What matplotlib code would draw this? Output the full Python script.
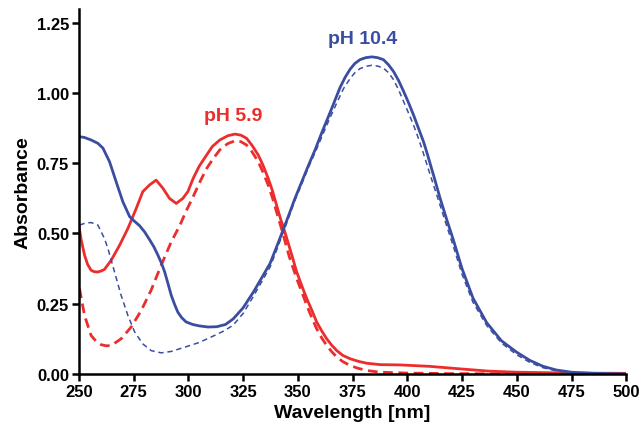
import matplotlib
matplotlib.use("Agg")
import matplotlib.pyplot as plt

plt.rcParams['font.family'] = ['Liberation Sans', 'DejaVu Sans']
plt.rcParams['font.weight'] = 'bold'

red = '#EC2D2D'
blue = '#3A4DA0'

# pH 5.9, solid
red_x = [250, 251, 252.6, 254, 255.6, 257, 258.7, 260, 261.7, 264.8, 268.6, 272.4, 276.2, 279.2, 282.3, 285.3,
         288.4, 291.4, 294.5, 297.5, 299.8, 302.2, 305, 308.4, 311, 314.4, 318, 321.3, 324, 326.6, 329,
         331.9, 334, 336.5, 338.5, 340.3, 342, 344.1, 347, 349.5, 352, 354.1, 356.5, 358.6, 361, 363.2, 365.5,
         367.8, 370.5, 373.9, 377.5, 381.5, 387.6, 396.7, 410, 424, 437, 450, 475, 500]
red_y = [0.53, 0.48, 0.423, 0.39, 0.369, 0.364, 0.363, 0.366, 0.372, 0.405, 0.458, 0.518, 0.589, 0.649, 0.673,
         0.69, 0.661, 0.625, 0.607, 0.625, 0.649, 0.696, 0.74, 0.78, 0.81, 0.833, 0.848, 0.854, 0.85, 0.839, 0.815,
         0.78, 0.745, 0.696, 0.65, 0.601, 0.555, 0.505, 0.43, 0.363, 0.31, 0.268, 0.225, 0.185, 0.152, 0.125,
         0.102, 0.083, 0.066, 0.054, 0.045, 0.038, 0.033, 0.032, 0.027, 0.018, 0.01, 0.006, 0.003, 0.002]

# pH 5.9, dashed
red_dx = [250.3, 252.6, 255.6, 258, 260.2, 262.5, 264.8, 269.3, 273.9, 278.5, 283, 287.6, 292.2, 296.2, 299,
          302.2, 305.3, 308.4, 311.5, 314.4, 318, 321.3, 324, 326.6, 329, 331.9, 334, 336.5, 338.5, 340.3, 343,
          346, 349.5, 352, 354.1, 356.5, 358.6, 361, 363.2, 365.5, 367.8, 370.5, 373.9, 377.5, 381.5, 387.6,
          400, 420, 450, 500]
red_dy = [0.304, 0.208, 0.137, 0.115, 0.104, 0.1, 0.101, 0.125, 0.167, 0.226, 0.298, 0.387, 0.47, 0.53, 0.58,
          0.631, 0.684, 0.732, 0.768, 0.798, 0.82, 0.83, 0.827, 0.815, 0.792, 0.756, 0.72, 0.672, 0.625, 0.577,
          0.505, 0.42, 0.339, 0.288, 0.244, 0.198, 0.161, 0.127, 0.101, 0.079, 0.06, 0.044, 0.03, 0.02, 0.012,
          0.006, 0.003, 0.001, 0.0, 0.0]

# pH 10.4, solid
blue_x = [250, 252.5, 255.6, 258.7, 261, 264, 267, 270.1, 273.2, 275.2, 277.7, 280, 282.3, 284.3, 286.1, 287.7,
          289.2, 290.7, 292.2, 293.7, 295.2, 297, 299, 302, 305, 309, 313, 317, 320.5, 325, 330, 333.5, 337.3,
          340.3, 343.4, 346, 348.7, 352, 355, 358, 361, 364.7, 367, 369.3, 371.6, 373.9, 376, 378.4, 381, 383.8,
          386.5, 389.1, 391.5, 393.7, 396, 398.2, 400.5, 402.8, 405, 407.4, 409, 412, 415, 418, 421, 425, 430,
          436.3, 443, 450, 456, 462, 468, 475, 485, 500]
blue_y = [0.845, 0.842, 0.833, 0.821, 0.804, 0.756, 0.685, 0.613, 0.56, 0.545, 0.528, 0.506, 0.478, 0.452, 0.423,
          0.395, 0.363, 0.322, 0.28, 0.248, 0.22, 0.2, 0.185, 0.176, 0.171, 0.167, 0.168, 0.176, 0.196, 0.235,
          0.295, 0.342, 0.393, 0.452, 0.515, 0.568, 0.625, 0.688, 0.745, 0.8, 0.86, 0.93, 0.975, 1.02, 1.056,
          1.085, 1.105, 1.119, 1.126, 1.129, 1.126, 1.119, 1.1, 1.077, 1.045, 1.008, 0.967, 0.923, 0.877, 0.827,
          0.787, 0.707, 0.625, 0.55, 0.478, 0.375, 0.27, 0.182, 0.118, 0.077, 0.048, 0.027, 0.014, 0.006, 0.002,
          0.0]

# pH 10.4, dashed
blue_dx = [250.3, 253, 255.6, 258.7, 261.7, 263.3, 266.3, 269.3, 272.4, 275.5, 279.2, 283, 287.6, 292.2, 298.3,
           305, 312, 316, 320.4, 325, 330, 333.5, 337.3, 340.3, 343.4, 346, 348.7, 352, 355, 358, 361, 364.7,
           367.8, 370.8, 373.9, 376, 378.4, 381, 383.8, 386.5, 389.1, 391.5, 393.7, 396, 398.2, 400.5, 402.8,
           404.7, 406.6, 410, 415, 418, 421, 425, 430, 436.3, 443, 450, 456, 462, 468, 475, 485, 500]
blue_dy = [0.53, 0.537, 0.539, 0.53, 0.482, 0.446, 0.363, 0.28, 0.208, 0.149, 0.107, 0.083, 0.075, 0.08, 0.095,
           0.112, 0.137, 0.152, 0.173, 0.215, 0.28, 0.328, 0.38, 0.44, 0.505, 0.56, 0.618, 0.68, 0.738, 0.79,
           0.845, 0.912, 0.965, 1.015, 1.052, 1.072, 1.087, 1.095, 1.099, 1.096, 1.089, 1.072, 1.048, 1.012,
           0.972, 0.93, 0.887, 0.847, 0.804, 0.72, 0.6, 0.527, 0.455, 0.355, 0.255, 0.172, 0.11, 0.068, 0.041,
           0.022, 0.011, 0.004, 0.001, 0.0]

xticks = [250, 275, 300, 325, 350, 375, 400, 425, 450, 475, 500]
yticks = [0.00, 0.25, 0.50, 0.75, 1.00, 1.25]

fig = plt.figure(figsize=(6.41, 4.27), dpi=100)
ax = fig.add_axes([0.123, 0.122, 0.854, 0.855])

ax.plot(red_x, red_y, color=red, lw=2.0, solid_joinstyle='round')
ax.plot(red_dx, red_dy, color=red, lw=2.0, dashes=(3.5, 2))
ax.plot(blue_x, blue_y, color=blue, lw=2.0, solid_joinstyle='round')
ax.plot(blue_dx, blue_dy, color=blue, lw=1.1, dashes=(3.5, 2.5))

ax.text(320.4, 0.92, 'pH 5.9', color=red, fontsize=14, fontweight='bold', ha='center', va='center')
ax.text(379.8, 1.196, 'pH 10.4', color=blue, fontsize=14, fontweight='bold', ha='center', va='center')

ax.set_xlim(250, 500)
ax.set_ylim(0, 1.3)
ax.set_xticks(xticks)
ax.set_yticks(yticks)
ax.set_yticklabels(['%.2f' % v for v in yticks])
ax.spines['top'].set_visible(False)
ax.spines['right'].set_visible(False)
ax.spines['left'].set_linewidth(1.8)
ax.spines['bottom'].set_linewidth(1.8)
ax.tick_params(width=1.8, length=5, labelsize=12, pad=2)
for lab in ax.get_xticklabels() + ax.get_yticklabels():
    lab.set_fontweight('bold')
ax.set_xlabel('Wavelength [nm]', fontsize=14, fontweight='bold', labelpad=4)
ax.set_ylabel('Absorbance', fontsize=14, fontweight='bold', labelpad=4)

fig.savefig('out.png', dpi=100)
